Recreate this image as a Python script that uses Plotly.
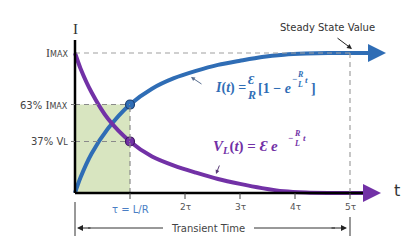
import plotly.graph_objects as go

# ---- data (x in units of tau, y as fraction of max) ----
t_vals = [0, 0.1, 0.3, 0.6, 1, 1.4, 1.8, 2.2, 2.6, 3.0, 3.4, 3.8, 4.2, 4.6, 5, 5.45]
current = [0, 0.11, 0.28, 0.46, 0.632, 0.745, 0.82, 0.872, 0.915, 0.945, 0.972, 0.988, 0.996, 1.0, 1.0, 1.0]
voltage = [1, 0.89, 0.72, 0.53, 0.368, 0.26, 0.195, 0.145, 0.1, 0.065, 0.035, 0.012, 0.003, 0.0, 0.0, 0.0]
tick_pos = [1, 2, 3, 4, 5]
tick_labels = ["τ = L/R", "2τ", "3τ", "4τ", "5τ"]
level_pos = [1.0, 0.632, 0.368]
SER = "<span style='font-family:Liberation Serif;font-size:12px'>I</span>"
level_labels = [SER + "<span style='font-size:8px'>MAX</span>",
                "63% " + SER + "<span style='font-size:8px'>MAX</span>",
                "37% V<span style='font-size:8px'>L</span>"]

BLUE = "#2f6db5"
PURPLE = "#7231a6"
GREEN = "#d8e5c0"
DASH = "#a0a0a0"
GREY = "#555555"

X0, XS = 75, 55.0
Y0, YS = 193, 140.0
def px(x):
    return (x - X0) / XS
def py(y):
    return (Y0 - y) / YS

fig = go.Figure()

shapes = []
shapes.append(dict(type="rect", xref="x", yref="y", x0=0, x1=tick_pos[0], y0=0, y1=level_pos[1],
                   fillcolor=GREEN, line=dict(width=0), layer="below"))
shapes.append(dict(type="line", xref="x", yref="y", x0=0, x1=tick_pos[4], y0=level_pos[0], y1=level_pos[0],
                   line=dict(color=DASH, width=1.2, dash="5px,4px")))
shapes.append(dict(type="line", xref="x", yref="y", x0=0, x1=tick_pos[0], y0=level_pos[1], y1=level_pos[1],
                   line=dict(color="#8a8a8a", width=1.2, dash="5px,4px")))
shapes.append(dict(type="line", xref="x", yref="y", x0=0, x1=tick_pos[0], y0=level_pos[2], y1=level_pos[2],
                   line=dict(color="#8a8a8a", width=1.2, dash="5px,4px")))
shapes.append(dict(type="line", xref="x", yref="y", x0=tick_pos[0], x1=tick_pos[0], y0=0, y1=level_pos[1],
                   line=dict(color="#8a8a8a", width=1.2, dash="5px,4px")))
shapes.append(dict(type="line", xref="x", yref="y", x0=tick_pos[4], x1=tick_pos[4], y0=0, y1=level_pos[0],
                   line=dict(color=DASH, width=1.2, dash="5px,4px")))
shapes.append(dict(type="line", xref="x", yref="y", x0=0, x1=0, y0=0, y1=py(40),
                   line=dict(color="black", width=2.5)))
shapes.append(dict(type="line", xref="x", yref="y", x0=0, x1=px(372), y0=0, y1=0,
                   line=dict(color="black", width=2.5)))
for tp in tick_pos:
    shapes.append(dict(type="line", xref="x", yref="y", x0=tp, x1=tp, y0=0, y1=py(199),
                       line=dict(color="#444444", width=1)))
for lp in level_pos[1:]:
    shapes.append(dict(type="line", xref="x", yref="y", x0=px(71), x1=0, y0=lp, y1=lp,
                       line=dict(color="#777777", width=1)))
shapes.append(dict(type="line", xref="x", yref="y", x0=0, x1=0, y0=py(202), y1=py(236),
                   line=dict(color="#333333", width=1)))
shapes.append(dict(type="line", xref="x", yref="y", x0=tick_pos[4], x1=tick_pos[4], y0=py(217), y1=py(236),
                   line=dict(color="#333333", width=1)))
shapes.append(dict(type="line", xref="x", yref="y", x0=px(88), x1=px(163), y0=py(228), y1=py(228),
                   line=dict(color="#333333", width=1)))
shapes.append(dict(type="line", xref="x", yref="y", x0=px(254), x1=px(335), y0=py(228), y1=py(228),
                   line=dict(color="#333333", width=1)))

fig.add_trace(go.Scatter(x=t_vals, y=current, mode="lines",
                         line=dict(color=BLUE, width=4, shape="spline", smoothing=0.8), hoverinfo="skip"))
fig.add_trace(go.Scatter(x=t_vals, y=voltage, mode="lines",
                         line=dict(color=PURPLE, width=4, shape="spline", smoothing=0.8), hoverinfo="skip"))
fig.add_trace(go.Scatter(x=[tick_pos[0]], y=[level_pos[1]], mode="markers",
                         marker=dict(color=BLUE, size=9, line=dict(color="#1d3f70", width=1.2))))
fig.add_trace(go.Scatter(x=[tick_pos[0]], y=[level_pos[2]], mode="markers",
                         marker=dict(color=PURPLE, size=9, line=dict(color="#3e1760", width=1.2))))

ann = []
ann.append(dict(x=px(386), y=current[-1], ax=t_vals[-2] + 0.35, ay=current[-1], xref="x", yref="y",
                axref="x", ayref="y", showarrow=True, arrowhead=2, arrowsize=0.9, arrowwidth=4,
                arrowcolor=BLUE, text=""))
ann.append(dict(x=px(381), y=0.0, ax=t_vals[-2] + 0.35, ay=0.0, xref="x", yref="y",
                axref="x", ayref="y", showarrow=True, arrowhead=2, arrowsize=0.9, arrowwidth=4,
                arrowcolor=PURPLE, text=""))
ann.append(dict(x=px(77), y=py(228), ax=px(92), ay=py(228), xref="x", yref="y", axref="x", ayref="y",
                showarrow=True, arrowhead=2, arrowsize=1.2, arrowwidth=1, arrowcolor="#222222", text=""))
ann.append(dict(x=px(347), y=py(228), ax=px(330), ay=py(228), xref="x", yref="y", axref="x", ayref="y",
                showarrow=True, arrowhead=2, arrowsize=1.2, arrowwidth=1, arrowcolor="#222222", text=""))
ann.append(dict(x=px(208), y=py(228), text="Transient Time", showarrow=False, xref="x", yref="y",
                font=dict(family="DejaVu Sans", size=10, color="#444444")))
ann.append(dict(x=px(327), y=py(27), text="Steady State Value", showarrow=False, xref="x", yref="y",
                font=dict(family="DejaVu Sans", size=10, color="#333333")))
ann.append(dict(x=px(352), y=py(49), ax=px(336), ay=py(37), xref="x", yref="y", axref="x", ayref="y",
                showarrow=True, arrowhead=2, arrowsize=1, arrowwidth=1, arrowcolor="#222222", text=""))
ann.append(dict(x=px(191), y=py(77), ax=px(203), ay=py(85), xref="x", yref="y", axref="x", ayref="y",
                showarrow=True, arrowhead=2, arrowsize=0.8, arrowwidth=1, arrowcolor="#5a6f90", text=""))
ann.append(dict(x=px(216), y=py(174), ax=px(220), ay=py(164), xref="x", yref="y", axref="x", ayref="y",
                showarrow=True, arrowhead=2, arrowsize=0.8, arrowwidth=1, arrowcolor="#5a3c78", text=""))
ann.append(dict(x=0, y=py(29), text="I", showarrow=False, xref="x", yref="y",
                font=dict(family="Liberation Serif", size=15, color="#333333")))
ann.append(dict(x=px(397), y=py(190), text="t", showarrow=False, xref="x", yref="y",
                font=dict(family="DejaVu Sans", size=16, color="#333333")))
for lp, lt in zip(level_pos, level_labels):
    ann.append(dict(x=px(70), y=lp, text=lt, showarrow=False, xref="x", yref="y", xanchor="right",
                    font=dict(family="DejaVu Sans", size=10, color="#444444")))
for tp, tl in zip(tick_pos, tick_labels):
    ann.append(dict(x=tp, y=py(209) if tp == 1 else py(207), text=tl, showarrow=False, xref="x", yref="y",
                    font=dict(family="DejaVu Sans", size=10 if tp == 1 else 9,
                              color="#4a7ec4" if tp == 1 else GREY)))

ef = "Liberation Serif"
def eq(x, y, text, size, color, anchor="left"):
    ann.append(dict(x=px(x), y=py(y), text=text, showarrow=False, xref="x", yref="y", xanchor=anchor,
                    font=dict(family=ef, size=size, color=color)))
eq(213, 88, "<b><i>I</i>(<i>t</i>) =</b>", 14, BLUE)
eq(251, 80, "<b><i>Ɛ</i></b>", 12, BLUE, "center")
eq(251, 95, "<b><i>R</i></b>", 12, BLUE, "center")
eq(256, 88, "<b>[1 − <i>e</i></b>", 14, BLUE)
eq(294, 79, "<b>−</b>", 9, BLUE, "center")
eq(300, 74, "<b><i>R</i></b>", 8, BLUE, "center")
eq(300, 84, "<b><i>L</i></b>", 8, BLUE, "center")
eq(306, 80, "<b><i>t</i></b>", 9, BLUE, "center")
eq(309, 88, "<b>]</b>", 14, BLUE)
eq(211, 147, "<b><i>V<sub>L</sub></i>(<i>t</i>) = <i>Ɛ e</i></b>", 15, PURPLE)
eq(290, 138, "<b>−</b>", 9, PURPLE, "center")
eq(297, 133, "<b><i>R</i></b>", 8, PURPLE, "center")
eq(297, 143, "<b><i>L</i></b>", 8, PURPLE, "center")
eq(304, 138, "<b><i>t</i></b>", 9, PURPLE, "center")

fig.update_layout(
    width=419, height=251, autosize=False,
    margin=dict(l=0, r=0, t=0, b=0),
    paper_bgcolor="white", plot_bgcolor="white",
    showlegend=False, shapes=shapes, annotations=ann,
    xaxis=dict(range=[px(0), px(419)], visible=False, fixedrange=True),
    yaxis=dict(range=[py(251), py(0)], visible=False, fixedrange=True),
)
fig.write_html("out.html")
